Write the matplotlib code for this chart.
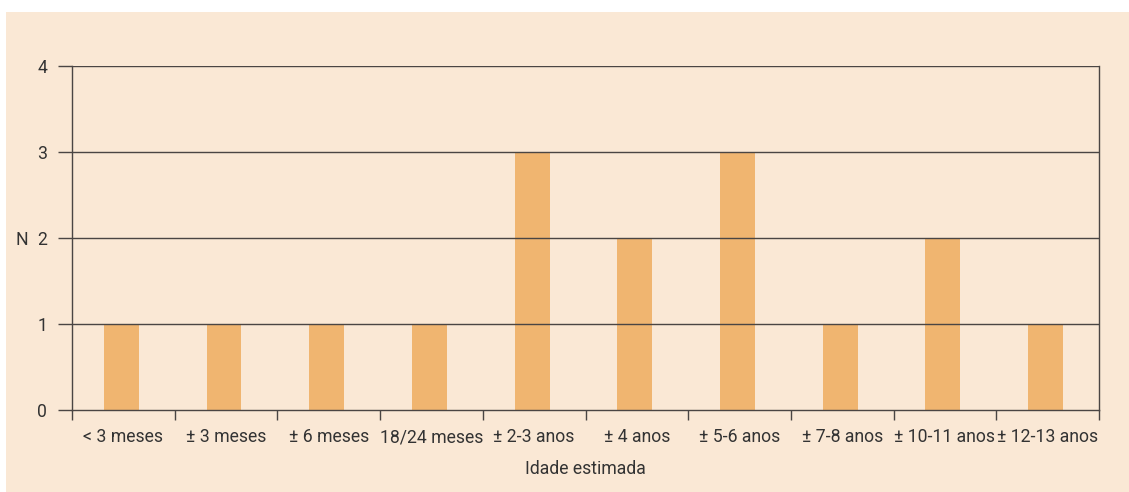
import matplotlib
matplotlib.use("Agg")
import matplotlib.pyplot as plt
from matplotlib.patches import Rectangle
import numpy as np

categories = ["< 3 meses", "± 3 meses", "± 6 meses", "18/24 meses", "± 2-3 anos",
              "± 4 anos", "± 5-6 anos", "± 7-8 anos", "± 10-11 anos", "± 12-13 anos"]
counts = [1, 1, 1, 1, 3, 2, 3, 1, 2, 1]
y_ticks = [0, 1, 2, 3, 4]

panel_color = "#FAE8D5"
bar_color = "#F0B570"
line_color = "#4A4543"
text_color = "#333333"

plt.rcParams["font.family"] = ["Roboto", "DejaVu Sans"]

W, H = 1129, 492
PX = 72 / 100  # points per pixel at dpi 100
fig = plt.figure(figsize=(W / 100, H / 100), dpi=100)
fig.patch.set_facecolor("white")
fig.patches.append(Rectangle((6 / W, 0), 1 - 6 / W, (H - 12) / H,
                             transform=fig.transFigure, facecolor=panel_color,
                             edgecolor="none", zorder=-10))

ax = fig.add_axes([72 / W, 1 - 410 / H, (1099 - 72) / W, (410 - 66) / H])
ax.set_facecolor(panel_color)

x = np.arange(len(categories))
ax.bar(x - 0.02, counts, width=0.34, color=bar_color, zorder=1)

ax.set_xlim(-0.5, len(categories) - 0.5)
ax.set_ylim(0, 4)

lw = 1.4 * PX
for v in y_ticks[1:]:
    ax.axhline(v, color=line_color, lw=lw, zorder=2)

ax.spines["top"].set_visible(False)
for side in ["left", "right", "bottom"]:
    ax.spines[side].set_color(line_color)
    ax.spines[side].set_linewidth(lw)
    ax.spines[side].set_zorder(3)

fs = 12.7

# category boundaries as major ticks, labels on minor ticks at centers
ax.set_xticks(np.arange(len(categories) + 1) - 0.5)
ax.set_xticklabels([])
ax.tick_params(axis="x", which="major", length=10 * PX, width=lw, color=line_color, direction="out")
ax.set_xticks(x, minor=True)
ax.set_xticklabels(categories, minor=True)
ax.tick_params(axis="x", which="minor", length=0, pad=18 * PX, labelsize=fs, labelcolor=text_color)

ax.set_yticks(y_ticks)
ax.set_yticklabels([str(v) for v in y_ticks])
ax.tick_params(axis="y", length=14 * PX, width=lw, color=line_color, pad=11 * PX,
               labelsize=fs, labelcolor=text_color)

ax.set_ylabel("N", rotation=0, fontsize=fs, color=text_color,
              va="center_baseline", ha="center")
ax.yaxis.set_label_coords((22 - 72) / (1099 - 72), 0.5)
ax.set_xlabel("Idade estimada", fontsize=fs, color=text_color, labelpad=14 * PX)

fig.savefig("out.png", dpi=100, facecolor=fig.get_facecolor())
